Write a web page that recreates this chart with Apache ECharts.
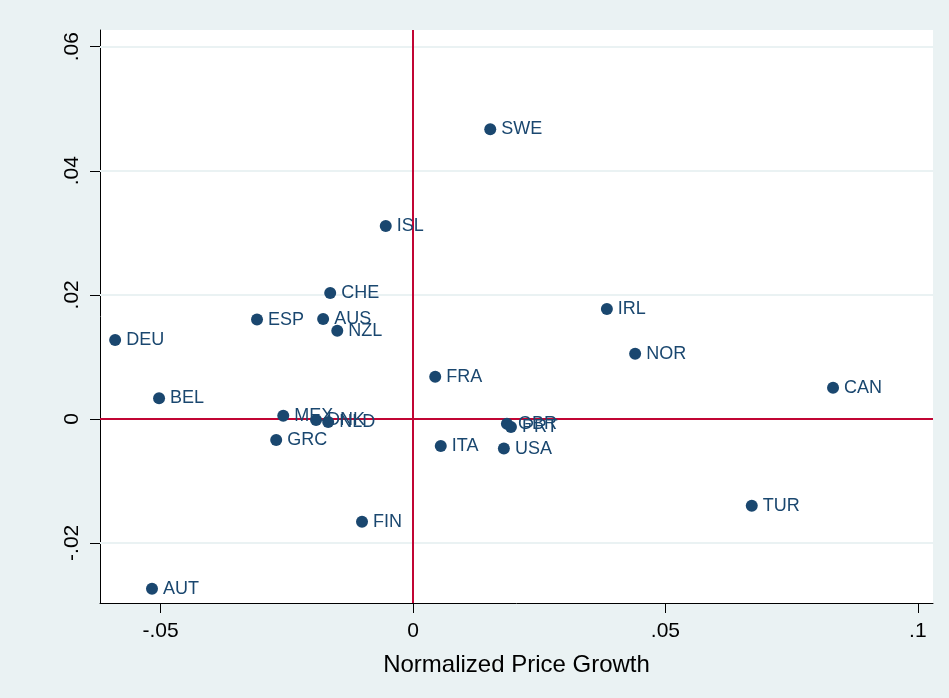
<!DOCTYPE html>
<html>
<head>
<meta charset="utf-8">
<script src="https://cdn.jsdelivr.net/npm/echarts@6/dist/echarts.min.js"></script>
<style>
html,body{margin:0;padding:0;background:#eaf2f3;}
#chart{width:949px;height:698px;}
</style>
</head>
<body>
<div id="chart"></div>
<script>
const countries = ["SWE","ISL","CHE","ESP","AUS","NZL","DEU","IRL","NOR","CAN","FRA","BEL","MEX","DNK","NLD","GRC","GBR","PRT","ITA","USA","FIN","TUR","AUT"];
const priceGrowth = [0.0153,-0.0054,-0.0164,-0.0309,-0.0178,-0.0150,-0.0590,0.0384,0.0440,0.0832,0.0044,-0.0503,-0.0257,-0.0192,-0.0168,-0.0271,0.0186,0.0194,0.0055,0.0180,-0.0101,0.0671,-0.0517];
const yValues = [0.0467,0.0311,0.0203,0.0160,0.0161,0.0142,0.0127,0.0177,0.0105,0.0050,0.0068,0.0033,0.0005,-0.0002,-0.0005,-0.0034,-0.0008,-0.0013,-0.0044,-0.0048,-0.0166,-0.0140,-0.0274];
const xTicks = [-0.05,0,0.05,0.1];
const yTicks = [-0.02,0,0.02,0.04,0.06];

function fmt(v){
  if (Math.abs(v) < 1e-12) return "0";
  let s = String(+v.toFixed(4));
  return s.replace(/^(-?)0\./, "$1.");
}

const chart = echarts.init(document.getElementById('chart'), null, {renderer:'canvas'});
const data = countries.map((c,i)=>[priceGrowth[i], yValues[i], c]);
const FONT = 'Liberation Sans, Arial, Helvetica';
chart.setOption({
  backgroundColor:'#eaf2f3',
  animation:false,
  grid:{left:100,right:16,top:30,bottom:95,show:true,backgroundColor:'#ffffff',borderWidth:0},
  xAxis:{
    type:'value', min:-0.062, max:0.103,
    name:'Normalized Price Growth', nameLocation:'middle', nameGap:50,
    nameTextStyle:{fontFamily:FONT,fontSize:24,color:'#000'},
    axisLine:{show:true,onZero:false,lineStyle:{color:'#000',width:1}},
    axisTick:{show:true,length:10,customValues:xTicks,lineStyle:{color:'#000'}},
    axisLabel:{customValues:xTicks,formatter:fmt,margin:18,fontFamily:FONT,fontSize:21,color:'#000'},
    splitLine:{show:false}
  },
  yAxis:{
    type:'value', min:-0.0297, max:0.0627,
    axisLine:{show:true,onZero:false,lineStyle:{color:'#000',width:1}},
    axisTick:{show:true,length:10,customValues:yTicks,lineStyle:{color:'#000'}},
    axisLabel:{customValues:yTicks,formatter:fmt,rotate:90,margin:17,fontFamily:FONT,fontSize:21,color:'#000'},
    splitLine:{show:false}
  },
  series:[
    {
      type:'line', data: yTicks.filter(v=>v!==0).map(v=>[0,v]), showSymbol:false, lineStyle:{opacity:0}, silent:true, z:1,
      markLine:{silent:true,symbol:'none',z:1,label:{show:false},lineStyle:{color:'#eaf2f3',width:2,type:'solid'},
        data: yTicks.filter(v=>v!==0).map(v=>({yAxis:v}))}
    },
    {
      type:'line', data:[[0,0]], showSymbol:false, lineStyle:{opacity:0}, silent:true, z:1,
      markLine:{silent:true,symbol:'none',z:1,label:{show:false},lineStyle:{color:'#c10534',width:2,type:'solid'},
        data:[{xAxis:0},{yAxis:0}]}
    },
    {
      type:'scatter', data:data, symbolSize:12,
      itemStyle:{color:'#1a476f',opacity:1},
      label:{show:true,position:'right',distance:5,formatter:p=>p.data[2],fontFamily:FONT,fontSize:18,color:'#1a476f',offset:[0,2]},
      labelLayout:{hideOverlap:false},
      z:3
    }
  ]
});
</script>
</body>
</html>
